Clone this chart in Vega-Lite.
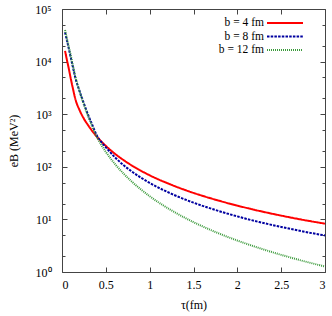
{
  "$schema": "https://vega.github.io/schema/vega-lite/v6.json",
  "width": 263,
  "height": 263,
  "autosize": "none",
  "padding": {"left": 62, "top": 9, "right": 7, "bottom": 44},
  "config": {
    "font": "Liberation Serif",
    "view": {"stroke": "#444", "strokeWidth": 1},
    "axis": {"domain": false, "grid": false, "tickColor": "#444", "labelColor": "#000", "labelFont": "Liberation Serif", "labelFontSize": 12, "titleFont": "Liberation Serif", "titleFontSize": 12, "titleFontWeight": "normal", "titleColor": "#000"}
  },
  "data": {"values": [
    {"t":0.035,"v":16000,"b":"b = 4 fm"},{"t":0.05,"v":12000,"b":"b = 4 fm"},{"t":0.075,"v":7700,"b":"b = 4 fm"},{"t":0.1,"v":4750,"b":"b = 4 fm"},{"t":0.125,"v":3050,"b":"b = 4 fm"},{"t":0.15,"v":2000,"b":"b = 4 fm"},{"t":0.2,"v":1200,"b":"b = 4 fm"},{"t":0.25,"v":820,"b":"b = 4 fm"},{"t":0.3,"v":610,"b":"b = 4 fm"},{"t":0.35,"v":467,"b":"b = 4 fm"},{"t":0.4,"v":370,"b":"b = 4 fm"},{"t":0.45,"v":301,"b":"b = 4 fm"},{"t":0.5,"v":250,"b":"b = 4 fm"},{"t":0.6,"v":179,"b":"b = 4 fm"},{"t":0.7,"v":135,"b":"b = 4 fm"},{"t":0.8,"v":105,"b":"b = 4 fm"},{"t":1.0,"v":69,"b":"b = 4 fm"},{"t":1.25,"v":45.3,"b":"b = 4 fm"},{"t":1.5,"v":31.9,"b":"b = 4 fm"},{"t":1.75,"v":23.7,"b":"b = 4 fm"},{"t":2.0,"v":18.3,"b":"b = 4 fm"},{"t":2.25,"v":14.5,"b":"b = 4 fm"},{"t":2.5,"v":11.8,"b":"b = 4 fm"},{"t":2.75,"v":9.8,"b":"b = 4 fm"},{"t":3.0,"v":8.3,"b":"b = 4 fm"},
    {"t":0.035,"v":36000,"b":"b = 8 fm"},{"t":0.05,"v":28000,"b":"b = 8 fm"},{"t":0.075,"v":18500,"b":"b = 8 fm"},{"t":0.1,"v":12000,"b":"b = 8 fm"},{"t":0.125,"v":7800,"b":"b = 8 fm"},{"t":0.15,"v":5100,"b":"b = 8 fm"},{"t":0.2,"v":2750,"b":"b = 8 fm"},{"t":0.25,"v":1590,"b":"b = 8 fm"},{"t":0.3,"v":950,"b":"b = 8 fm"},{"t":0.35,"v":600,"b":"b = 8 fm"},{"t":0.4,"v":385,"b":"b = 8 fm"},{"t":0.45,"v":295,"b":"b = 8 fm"},{"t":0.5,"v":235,"b":"b = 8 fm"},{"t":0.6,"v":154,"b":"b = 8 fm"},{"t":0.7,"v":108,"b":"b = 8 fm"},{"t":0.8,"v":80.5,"b":"b = 8 fm"},{"t":1.0,"v":49.4,"b":"b = 8 fm"},{"t":1.25,"v":30.6,"b":"b = 8 fm"},{"t":1.5,"v":20.8,"b":"b = 8 fm"},{"t":1.75,"v":15.1,"b":"b = 8 fm"},{"t":2.0,"v":11.4,"b":"b = 8 fm"},{"t":2.25,"v":8.9,"b":"b = 8 fm"},{"t":2.5,"v":7.2,"b":"b = 8 fm"},{"t":2.75,"v":5.9,"b":"b = 8 fm"},{"t":3.0,"v":4.94,"b":"b = 8 fm"},
    {"t":0.035,"v":40000,"b":"b = 12 fm"},{"t":0.05,"v":30500,"b":"b = 12 fm"},{"t":0.075,"v":20000,"b":"b = 12 fm"},{"t":0.1,"v":13000,"b":"b = 12 fm"},{"t":0.125,"v":8300,"b":"b = 12 fm"},{"t":0.15,"v":5400,"b":"b = 12 fm"},{"t":0.2,"v":2750,"b":"b = 12 fm"},{"t":0.25,"v":1520,"b":"b = 12 fm"},{"t":0.3,"v":900,"b":"b = 12 fm"},{"t":0.35,"v":560,"b":"b = 12 fm"},{"t":0.4,"v":360,"b":"b = 12 fm"},{"t":0.45,"v":258,"b":"b = 12 fm"},{"t":0.5,"v":192,"b":"b = 12 fm"},{"t":0.6,"v":115,"b":"b = 12 fm"},{"t":0.7,"v":75,"b":"b = 12 fm"},{"t":0.8,"v":51.6,"b":"b = 12 fm"},{"t":1.0,"v":27.6,"b":"b = 12 fm"},{"t":1.25,"v":14.8,"b":"b = 12 fm"},{"t":1.5,"v":8.87,"b":"b = 12 fm"},{"t":1.75,"v":5.76,"b":"b = 12 fm"},{"t":2.0,"v":3.96,"b":"b = 12 fm"},{"t":2.25,"v":2.85,"b":"b = 12 fm"},{"t":2.5,"v":2.12,"b":"b = 12 fm"},{"t":2.75,"v":1.62,"b":"b = 12 fm"},{"t":3.0,"v":1.27,"b":"b = 12 fm"}
  ]},
  "layer": [
    {
      "mark": {"type": "line", "interpolate": "monotone", "strokeWidth": 2},
      "encoding": {
        "x": {"field": "t", "type": "quantitative", "scale": {"domain": [0, 3], "nice": false, "zero": false},
              "axis": {"orient": "bottom", "title": "τ(fm)", "values": [0, 0.5, 1, 1.5, 2, 2.5, 3], "format": "~g", "tickSize": -5, "labelPadding": 12, "titlePadding": 9}},
        "y": {"field": "v", "type": "quantitative", "scale": {"type": "log", "domain": [1, 100000], "nice": false},
              "axis": {"orient": "left", "title": "eB (MeV²)", "values": [1, 10, 100, 1000, 10000, 100000], "tickSize": -5, "labelPadding": 16, "titlePadding": 14,
                       "labelExpr": "'10' + ['⁰','¹','²','³','⁴','⁵'][round(log(datum.value)/LN10)]"}},
        "color": {"field": "b", "type": "nominal", "scale": {"domain": ["b = 4 fm", "b = 8 fm", "b = 12 fm"], "range": ["#ff0000", "#0000a0", "#3c9a3c"]},
                  "legend": {"orient": "none", "legendX": 217, "legendY": 8, "title": null, "padding": 0, "symbolType": "M-3.6,0H3.6", "symbolSize": 100, "symbolStrokeWidth": 2, "labelAlign": "right", "labelOffset": -27, "labelFont": "Liberation Serif", "labelFontSize": 11.5, "labelColor": "#000", "rowPadding": 1.5}},
        "strokeDash": {"field": "b", "type": "nominal", "scale": {"domain": ["b = 4 fm", "b = 8 fm", "b = 12 fm"], "range": [[1, 0], [2.5, 1.2], [1, 1]]}}
      }
    },
    {
      "mark": {"type": "line", "opacity": 0},
      "encoding": {
        "x": {"field": "t", "type": "quantitative", "axis": {"orient": "top", "title": null, "labels": false, "values": [0, 0.5, 1, 1.5, 2, 2.5, 3], "tickSize": -5}},
        "y": {"field": "v", "type": "quantitative", "axis": {"orient": "right", "title": null, "labels": false, "values": [1, 10, 100, 1000, 10000, 100000], "tickSize": -5}},
        "detail": {"field": "b"}
      }
    },
    {
      "mark": {"type": "line", "opacity": 0},
      "encoding": {
        "x": {"field": "t", "type": "quantitative", "axis": null},
        "y": {"field": "v", "type": "quantitative", "axis": {"orient": "left", "title": null, "labels": false, "values": [2, 5, 20, 50, 200, 500, 2000, 5000, 20000, 50000], "tickSize": -3}},
        "detail": {"field": "b"}
      }
    },
    {
      "mark": {"type": "line", "opacity": 0},
      "encoding": {
        "x": {"field": "t", "type": "quantitative", "axis": null},
        "y": {"field": "v", "type": "quantitative", "axis": {"orient": "right", "title": null, "labels": false, "values": [2, 5, 20, 50, 200, 500, 2000, 5000, 20000, 50000], "tickSize": -3}},
        "detail": {"field": "b"}
      }
    }
  ],
  "resolve": {"axis": {"x": "independent", "y": "independent"}}
}
